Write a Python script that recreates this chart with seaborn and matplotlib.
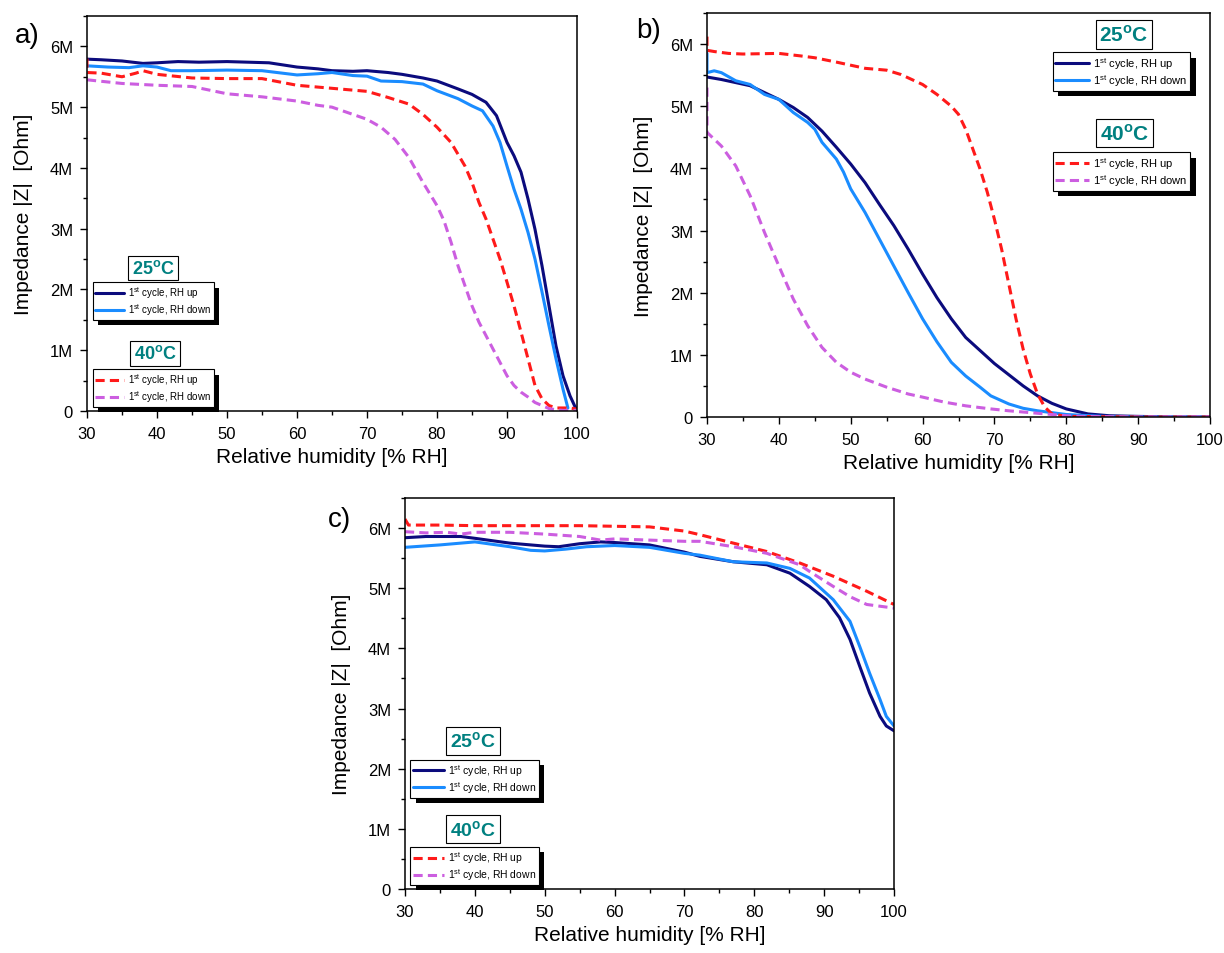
import matplotlib
matplotlib.use("Agg")
import matplotlib.pyplot as plt
import matplotlib.patheffects as pe
from matplotlib.ticker import MultipleLocator, FuncFormatter
import numpy as np
import seaborn as sns

# values, impedance in MOhm
a_up25_rh = [30, 32, 35, 38, 40, 43, 46, 50, 53, 56, 60, 63, 65, 68, 70, 73, 75, 78, 80, 83, 85, 87, 88.5,
             90, 91, 92, 93, 94, 95, 96, 97, 98, 99, 100]
a_up25_z = [5.79, 5.78, 5.76, 5.72, 5.73, 5.75, 5.74, 5.75, 5.74, 5.73, 5.66, 5.63, 5.60, 5.59, 5.60, 5.57,
            5.54, 5.48, 5.43, 5.30, 5.21, 5.08, 4.86, 4.42, 4.20, 3.93, 3.49, 2.99, 2.39, 1.73, 1.07, 0.58,
            0.25, 0.0]
a_dn25_rh = [30, 33, 36, 38, 40, 42, 45, 50, 55, 60, 63, 65, 68, 70, 72, 75, 78, 80, 83, 85, 86.5, 88, 89,
             90, 91, 92, 93, 94, 95, 96, 97, 98, 98.7]
a_dn25_z = [5.68, 5.66, 5.65, 5.68, 5.66, 5.60, 5.60, 5.61, 5.60, 5.53, 5.55, 5.57, 5.52, 5.51, 5.43, 5.42,
            5.38, 5.27, 5.14, 5.02, 4.94, 4.69, 4.42, 4.03, 3.65, 3.32, 2.94, 2.50, 1.96, 1.40, 0.86, 0.36,
            0.05]
a_up40_rh = [30, 30, 32, 35, 37, 38, 40, 45, 50, 55, 60, 65, 70, 73, 76, 78, 80, 82, 84, 85, 86, 87, 88,
             89, 90, 91, 92, 93, 94, 95, 96, 97, 98, 99, 100]
a_up40_z = [5.80, 5.57, 5.56, 5.50, 5.56, 5.60, 5.54, 5.48, 5.47, 5.47, 5.36, 5.31, 5.26, 5.16, 5.05, 4.88,
            4.67, 4.42, 4.03, 3.76, 3.43, 3.16, 2.83, 2.50, 2.12, 1.73, 1.30, 0.86, 0.42, 0.20, 0.09, 0.05,
            0.05, 0.05, 0.03]
a_dn40_rh = [30, 35, 40, 45, 50, 55, 60, 63, 65, 67, 70, 72, 74, 76, 78, 80, 81, 82, 83, 84, 85, 86, 87,
             88, 89, 90, 91, 92, 93, 94, 95, 96, 97, 98, 100]
a_dn40_z = [5.45, 5.39, 5.36, 5.34, 5.22, 5.17, 5.10, 5.03, 5.0, 4.92, 4.80, 4.67, 4.47, 4.17, 3.76, 3.38,
            3.13, 2.78, 2.39, 2.06, 1.73, 1.46, 1.24, 1.02, 0.80, 0.58, 0.42, 0.31, 0.23, 0.14, 0.09, 0.04,
            0.02, 0.01, 0.01]

b_up25_rh = [30, 32, 34, 36, 38, 40, 42, 44, 46, 48, 50, 52, 54, 56, 58, 60, 62, 64, 66, 68, 70, 72, 74,
             76, 78, 80, 83, 86, 90, 95, 100]
b_up25_z = [5.47, 5.43, 5.38, 5.33, 5.22, 5.11, 4.98, 4.82, 4.60, 4.34, 4.07, 3.77, 3.42, 3.08, 2.70, 2.30,
            1.92, 1.58, 1.28, 1.07, 0.86, 0.68, 0.50, 0.34, 0.22, 0.13, 0.05, 0.02, 0.01, 0.0, 0.0]
b_dn25_rh = [30, 30, 31, 32, 34, 36, 38, 40, 42, 44, 45, 46, 48, 49, 50, 52, 54, 56, 58, 60, 62, 64, 66,
             68, 69.5, 72, 74, 76, 78, 80, 85, 90, 100]
b_dn25_z = [5.85, 5.54, 5.57, 5.54, 5.41, 5.35, 5.19, 5.11, 4.90, 4.74, 4.63, 4.42, 4.15, 3.94, 3.67, 3.29,
            2.86, 2.43, 2.0, 1.58, 1.21, 0.88, 0.66, 0.48, 0.34, 0.21, 0.14, 0.10, 0.07, 0.04, 0.01, 0.0, 0.0]
b_up40_rh = [30, 30, 31, 33, 35, 40, 43, 45, 48, 50, 52, 55, 57, 60, 62, 64, 65, 66, 67, 68, 69, 70, 71,
             72, 73, 74, 75, 76, 77, 78, 80, 90, 100]
b_up40_z = [6.12, 5.90, 5.88, 5.85, 5.84, 5.85, 5.81, 5.78, 5.71, 5.66, 5.61, 5.58, 5.51, 5.35, 5.19, 5.0,
            4.87, 4.63, 4.31, 3.99, 3.62, 3.18, 2.70, 2.14, 1.58, 1.09, 0.69, 0.37, 0.16, 0.05, 0.01, 0.0, 0.0]
b_dn40_rh = [30, 30, 32, 34, 36, 38, 40, 42, 44, 46, 48, 50, 52, 55, 58, 60, 63, 66, 69.5, 72, 75, 78, 80,
             82, 90, 100]
b_dn40_z = [5.3, 4.58, 4.36, 4.04, 3.56, 2.97, 2.43, 1.90, 1.47, 1.12, 0.88, 0.72, 0.61, 0.48, 0.37, 0.32,
            0.24, 0.18, 0.13, 0.10, 0.07, 0.04, 0.02, 0.01, 0.0, 0.0]

c_up25_rh = [30, 33, 36, 38, 40, 45, 50, 52, 55, 58, 60, 65, 70, 72.2, 77, 81.8, 85.1, 87.9, 90.3, 92.2,
             93.7, 95.1, 96.5, 98, 98.9, 100]
c_up25_z = [5.84, 5.86, 5.86, 5.86, 5.83, 5.75, 5.70, 5.69, 5.74, 5.77, 5.76, 5.72, 5.60, 5.53, 5.44, 5.39,
            5.25, 5.03, 4.81, 4.51, 4.15, 3.70, 3.26, 2.87, 2.71, 2.63]
c_dn25_rh = [30, 35, 40, 45, 48, 50, 53, 56, 58, 60, 65, 70, 72.2, 77, 81.8, 85.1, 87.9, 91.3, 93.7, 95.1,
             96.5, 98, 98.9, 100]
c_dn25_z = [5.68, 5.72, 5.77, 5.69, 5.63, 5.62, 5.65, 5.69, 5.70, 5.71, 5.68, 5.58, 5.55, 5.44, 5.42, 5.33,
            5.17, 4.81, 4.45, 4.03, 3.59, 3.15, 2.87, 2.71]
c_up40_rh = [30, 30.5, 35, 40, 45, 50, 55, 60, 65, 70, 72.2, 77, 81.8, 86.5, 91.3, 96.1, 100]
c_up40_z = [6.15, 6.05, 6.05, 6.04, 6.04, 6.04, 6.04, 6.03, 6.02, 5.95, 5.89, 5.75, 5.61, 5.42, 5.20, 4.95,
            4.73]
c_dn40_rh = [30, 33, 36, 38, 40, 45, 50, 55, 58, 60, 65, 70, 72.2, 77, 81.8, 86.5, 87.9, 91.3, 93.7, 96.1,
             100]
c_dn40_z = [5.94, 5.92, 5.93, 5.90, 5.93, 5.93, 5.90, 5.86, 5.80, 5.82, 5.80, 5.78, 5.78, 5.69, 5.58, 5.39,
            5.28, 5.03, 4.86, 4.73, 4.67]

labels = [r"1$^{\mathrm{st}}$ cycle, RH up", r"1$^{\mathrm{st}}$ cycle, RH down"]
temps = [r"25$^{\mathbf{o}}$C", r"40$^{\mathbf{o}}$C"]
colors = ["#0b0b7d", "#1a8cff", "#ff1a1a", "#cc5ee0"]
TEAL = "#008080"

sns.set_theme(style="ticks")
plt.rcParams["font.family"] = ["Liberation Sans", "DejaVu Sans"]
plt.rcParams["mathtext.fontset"] = "custom"
plt.rcParams["mathtext.rm"] = "Liberation Sans"
plt.rcParams["mathtext.bf"] = "Liberation Sans:bold"
plt.rcParams["axes.edgecolor"] = "black"
plt.rcParams["xtick.color"] = "black"
plt.rcParams["ytick.color"] = "black"
plt.rcParams["text.color"] = "black"
plt.rcParams["axes.labelcolor"] = "black"


def mega(v, pos):
    if abs(v) < 1:
        return "0"
    return "{:g}M".format(v / 1e6)


def add_legend(ax, handles, anchor, fs):
    leg = ax.legend(handles=handles, labels=labels, loc="upper left", bbox_to_anchor=anchor,
                    borderaxespad=0, fontsize=fs, frameon=True, fancybox=False, framealpha=1,
                    edgecolor="black", handlelength=3.0, handletextpad=0.4, labelspacing=0.12,
                    borderpad=0.25)
    leg.get_frame().set_linewidth(0.8)
    leg.get_frame().set_path_effects(
        [pe.withSimplePatchShadow(offset=(4, -4), shadow_rgbFace="black", alpha=1.0)])
    return leg


def draw_panel(ax, series, letter, letter_xy, label_fs, leg_fs, box_fs, boxes):
    for i, (rh, z) in enumerate(series):
        sns.lineplot(x=rh, y=np.array(z) * 1e6, ax=ax, color=colors[i], lw=2.2, sort=False,
                     estimator=None, legend=False)
        if i >= 2:
            ax.lines[-1].set_linestyle((0, (3.0, 1.7)))
    ax.set_xlim(30, 100)
    ax.set_ylim(0, 6.5e6)
    ax.xaxis.set_major_locator(MultipleLocator(10))
    ax.xaxis.set_minor_locator(MultipleLocator(5))
    ax.yaxis.set_major_locator(MultipleLocator(1e6))
    ax.yaxis.set_minor_locator(MultipleLocator(0.5e6))
    ax.yaxis.set_major_formatter(FuncFormatter(mega))
    ax.tick_params(which="major", direction="out", length=5, width=1, labelsize=12)
    ax.tick_params(which="minor", direction="out", length=3, width=1)
    ax.tick_params(axis="x", which="major", pad=6)
    ax.tick_params(axis="y", which="major", pad=5)
    for s in ax.spines.values():
        s.set_visible(True)
        s.set_linewidth(1.1)
    ax.set_xlabel("Relative humidity [% RH]", fontsize=label_fs)
    ax.set_ylabel("Impedance |Z|  [Ohm]", fontsize=label_fs, labelpad=12)

    (t25, l25, t40, l40) = boxes
    for txt, xy in ((temps[0], t25), (temps[1], t40)):
        ax.text(xy[0], xy[1], txt, transform=ax.transAxes, ha="center", va="center",
                fontsize=box_fs, fontweight="bold", color=TEAL,
                bbox=dict(boxstyle="square,pad=0.18", fc="white", ec="black", lw=0.8))
    leg1 = add_legend(ax, ax.lines[0:2], l25, leg_fs)
    ax.add_artist(leg1)
    add_legend(ax, ax.lines[2:4], l40, leg_fs)

    fig.text(letter_xy[0] / 1224, 1 - letter_xy[1] / 954, letter, fontsize=20,
             ha="left", va="center")


fig = plt.figure(figsize=(12.24, 9.54), dpi=100)
ax_a = fig.add_axes([87 / 1224, 1 - 412 / 954, 490 / 1224, 395 / 954])
ax_b = fig.add_axes([707 / 1224, 1 - 418 / 954, 503 / 1224, 404 / 954])
ax_c = fig.add_axes([405 / 1224, 1 - 890 / 954, 489 / 1224, 391 / 954])

draw_panel(ax_a, [(a_up25_rh, a_up25_z), (a_dn25_rh, a_dn25_z), (a_up40_rh, a_up40_z), (a_dn40_rh, a_dn40_z)],
           "a)", (15, 36), 15, 7, 13,
           ((0.135, 0.362), (0.0116, 0.326), (0.139, 0.146), (0.0116, 0.106)))
draw_panel(ax_b, [(b_up25_rh, b_up25_z), (b_dn25_rh, b_dn25_z), (b_up40_rh, b_up40_z), (b_dn40_rh, b_dn40_z)],
           "b)", (636, 31), 15, 8, 15,
           ((0.829, 0.947), (0.687, 0.903), (0.830, 0.703), (0.687, 0.655)))
draw_panel(ax_c, [(c_up25_rh, c_up25_z), (c_dn25_rh, c_dn25_z), (c_up40_rh, c_up40_z), (c_dn40_rh, c_dn40_z)],
           "c)", (328, 520), 15, 7.5, 14,
           ((0.139, 0.379), (0.0102, 0.331), (0.139, 0.153), (0.0102, 0.108)))

fig.savefig("out.png", dpi=100)
plt.close(fig)
